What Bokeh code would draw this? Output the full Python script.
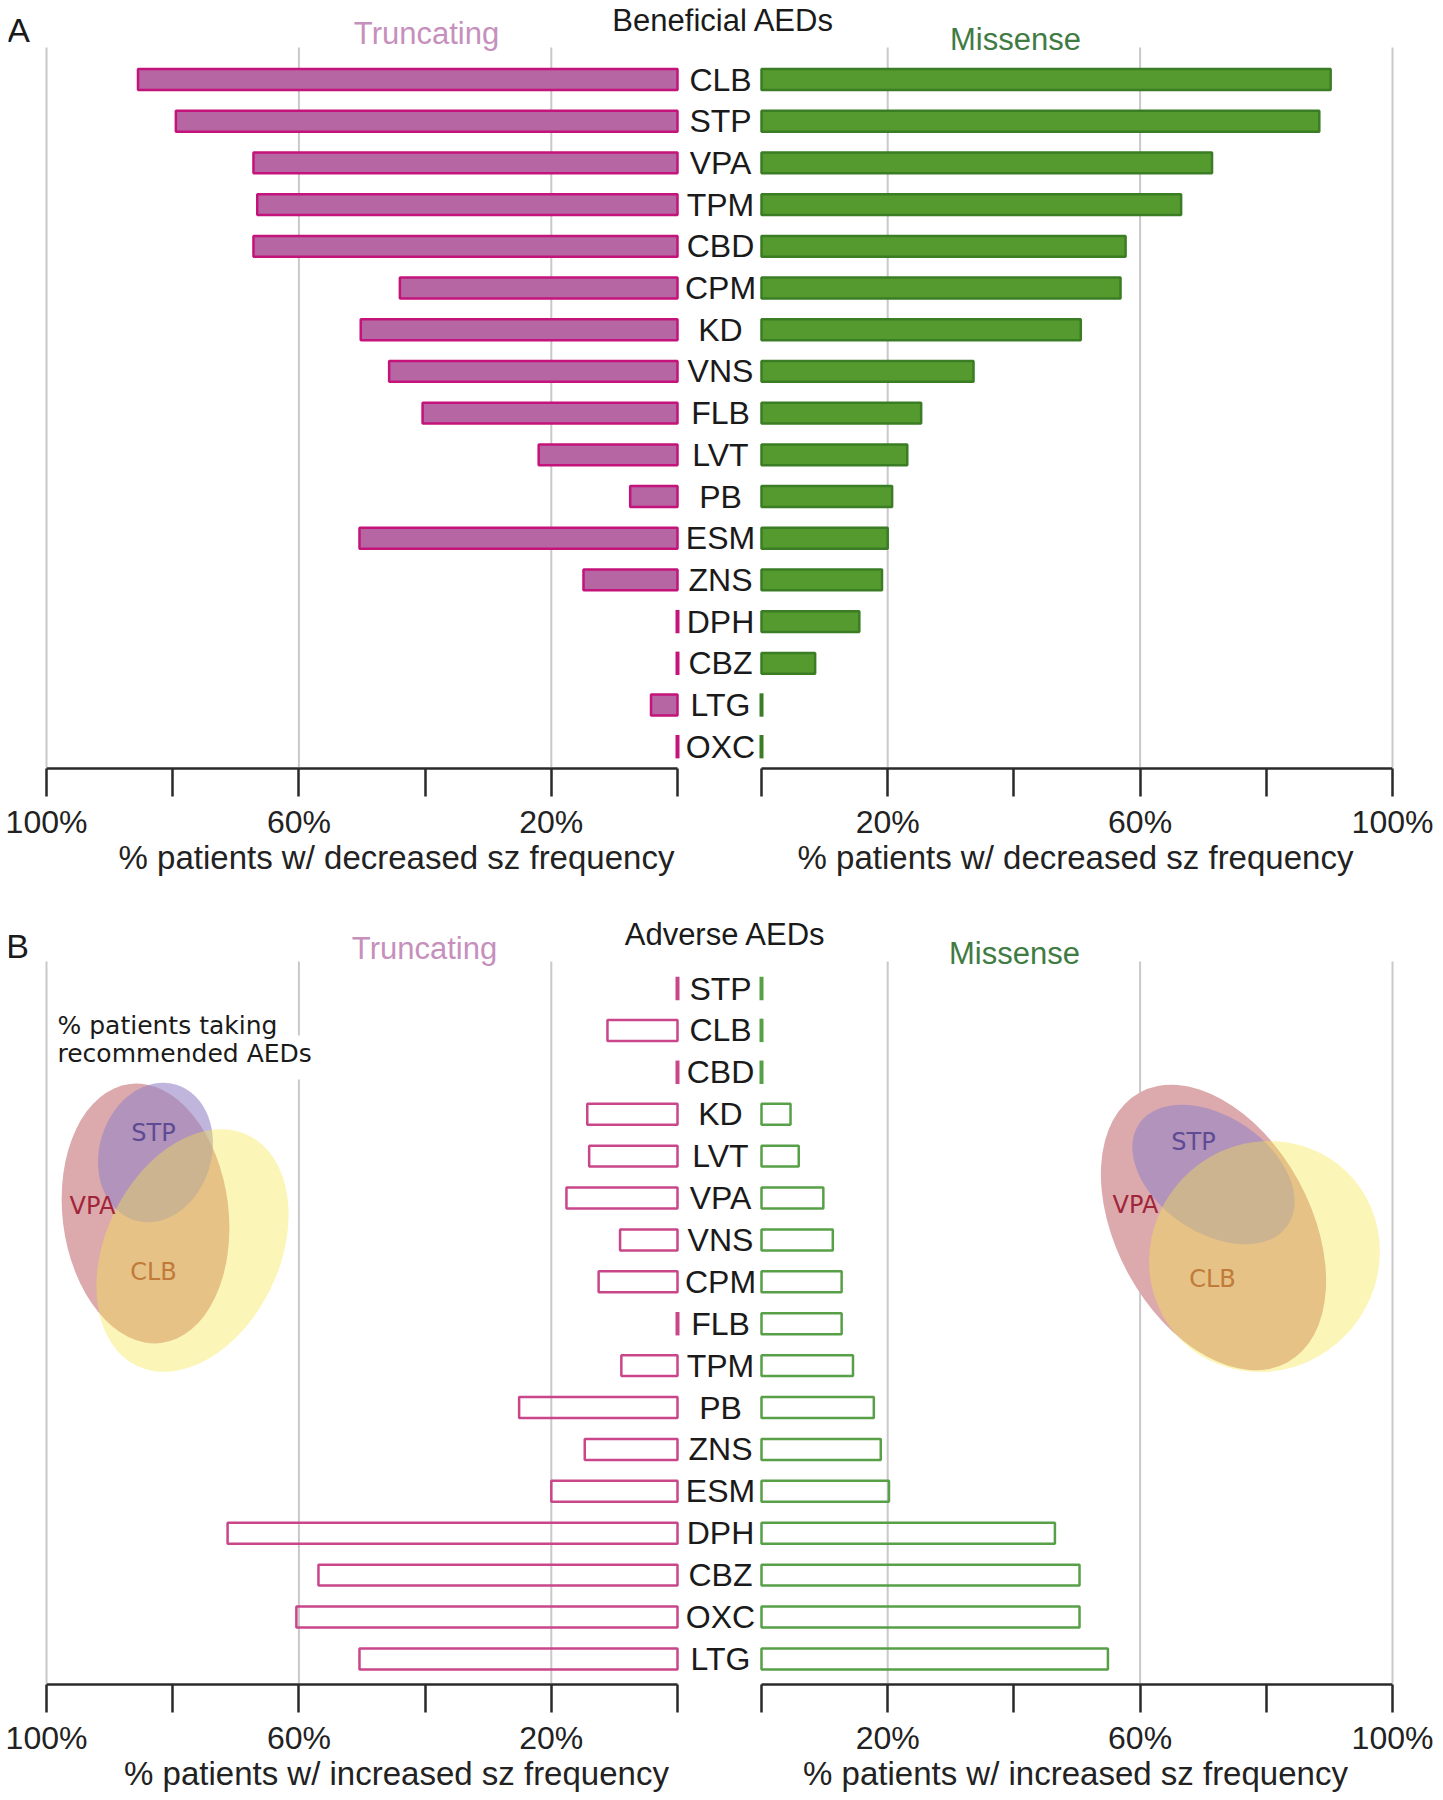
from bokeh.plotting import figure
from bokeh.models import Range1d, FixedTicker
from bokeh.layouts import column, row
from bokeh.embed import file_html
from bokeh.resources import INLINE
from bokeh.core.properties import value

# ---------------- data ----------------
cats_A = ["CLB", "STP", "VPA", "TPM", "CBD", "CPM", "KD", "VNS", "FLB",
          "LVT", "PB", "ESM", "ZNS", "DPH", "CBZ", "LTG", "OXC"]
trunc_A = [85.5, 79.5, 67.2, 66.6, 67.2, 44.0, 50.2, 45.7, 40.4,
           22.0, 7.5, 50.4, 14.9, 0, 0, 4.2, 0]
miss_A = [90.2, 88.4, 71.4, 66.5, 57.7, 56.9, 50.6, 33.6, 25.3,
          23.1, 20.7, 20.0, 19.1, 15.5, 8.5, 0, 0]

cats_B = ["STP", "CLB", "CBD", "KD", "LVT", "VPA", "VNS", "CPM", "FLB",
          "TPM", "PB", "ZNS", "ESM", "DPH", "CBZ", "OXC", "LTG"]
trunc_B = [0, 11.1, 0, 14.3, 14.0, 17.6, 9.1, 12.5, 0,
           8.9, 25.1, 14.7, 20.0, 71.3, 56.9, 60.4, 50.4]
miss_B = [0, 0, 0, 4.6, 5.9, 9.8, 11.3, 12.7, 12.7,
          14.5, 17.8, 18.9, 20.2, 46.5, 50.4, 50.4, 54.9]

tick_values = [0, 20, 40, 60, 80, 100]
tick_labels = {0: "", 20: "20%", 40: "", 60: "60%", 80: "", 100: "100%"}
grid_values = [20, 60, 100]

venn_sets = ["VPA", "STP", "CLB"]

# ---------------- layout / style ----------------
W = 1427
OFF = 8         # page margin emulation
L0 = 669.0      # frame x of left 0%
R0 = 753.0      # frame x of right 0%
PX = 6.31       # px per percent
MID = (L0 + R0) / 2 + 1
FONT = "Liberation Sans"
VFONT = "DejaVu Sans"

TRUNC_FILL = "#b566a3"
TRUNC_LINE = "#c4137a"
MISS_FILL = "#559a2f"
MISS_LINE = "#3b7d24"
TRUNC_LINE_B = "#c9468a"
MISS_LINE_B = "#57a047"
TRUNC_TITLE = "#c690bd"
MISS_TITLE = "#3f7b42"
GRID = "#c9c9c9"

VENN_FILL = {"VPA": ("#dcaaac", 1.0), "STP": ("#9484c6", 0.6), "CLB": ("#f5e64d", 0.4)}
VENN_TEXT = {"VPA": "#a0253a", "STP": "#5f4b94", "CLB": "#c07a3a"}


def main_fig(H, row0, rowsp, top_border):
    top = -row0 / rowsp
    bottom = (H - row0) / rowsp
    p = figure(frame_width=W, frame_height=H, x_range=Range1d(0, W),
               y_range=Range1d(start=bottom, end=top),
               x_axis_type=None, y_axis_type=None, toolbar_location=None,
               output_backend="svg", min_border=0, outline_line_color=None,
               background_fill_color="white", border_fill_color="white")
    p.min_border_left = OFF
    p.min_border_right = 0
    p.min_border_top = top_border
    p.min_border_bottom = 0
    p.extra_x_ranges = {"L": Range1d(start=L0 / PX, end=(L0 - W) / PX),
                        "R": Range1d(start=-R0 / PX, end=(W - R0) / PX)}
    p.extra_y_ranges = {"px": Range1d(start=H, end=0)}
    return p


def add_grid(p, H, gtop):
    for side in ("L", "R"):
        p.segment(x0=grid_values, x1=grid_values, y0=[gtop] * len(grid_values),
                  y1=[H] * len(grid_values), x_range_name=side, y_range_name="px",
                  line_color=GRID, line_width=2)


def add_bars(p, vals, side, fill, line, alpha=1.0):
    idx = [i for i, v in enumerate(vals) if v > 0]
    p.hbar(y=idx, left=0, right=[vals[i] for i in idx], height=0.5,
           fill_color=fill, fill_alpha=alpha, line_color=line, line_width=2.5,
           x_range_name=side)
    zidx = [i for i, v in enumerate(vals) if v == 0]
    if zidx:
        p.segment(x0=[0] * len(zidx), x1=[0] * len(zidx),
                  y0=[i - 0.28 for i in zidx], y1=[i + 0.28 for i in zidx],
                  line_color=line, line_width=4, x_range_name=side)


def add_labels(p, cats):
    p.text(x=[MID] * len(cats), y=list(range(len(cats))), text=cats,
           text_align="center", text_baseline="middle",
           text_font=value(FONT), text_font_size="32px", text_color="#1a1a1a")


def add_header(p, letter, title, pos):
    (lx, ly), (tx, ty), (ux, uy), (mx, my) = pos
    p.text(x=[lx], y=[ly], text=[letter], y_range_name="px", text_align="center",
           text_baseline="middle", text_font=value(FONT), text_font_size="34px",
           text_color="#1a1a1a")
    p.text(x=[tx], y=[ty], text=[title], y_range_name="px", text_align="center",
           text_baseline="middle", text_font=value(FONT), text_font_size="31px",
           text_color="#1a1a1a")
    p.text(x=[ux], y=[uy], text=["Truncating"], y_range_name="px", text_align="center",
           text_baseline="middle", text_font=value(FONT), text_font_size="31px",
           text_color=TRUNC_TITLE)
    p.text(x=[mx], y=[my], text=["Missense"], y_range_name="px", text_align="center",
           text_baseline="middle", text_font=value(FONT), text_font_size="31px",
           text_color=MISS_TITLE)


def add_venn(p, geom, lab):
    for name in venn_sets:
        x, y, w, h, a = geom[name]
        c, al = VENN_FILL[name]
        p.ellipse(x=[x], y=[y], width=[w], height=[h], angle=[a],
                  width_units="screen", height_units="screen",
                  y_range_name="px", fill_color=c, fill_alpha=al, line_color=None)
    for name in venn_sets:
        x, y = lab[name]
        p.text(x=[x], y=[y], text=[name], y_range_name="px", text_align="center",
               text_baseline="middle", text_font=value(VFONT), text_font_size="24px",
               text_color=VENN_TEXT[name])


def axis_fig(xr, mbl, fw, mbr, label):
    p = figure(frame_width=fw, frame_height=1, x_range=xr, y_range=Range1d(0, 1),
               y_axis_type=None, toolbar_location=None, output_backend="svg",
               outline_line_color=None, background_fill_color="white",
               border_fill_color="white")
    p.min_border_left = mbl
    p.min_border_right = mbr
    p.min_border_top = 0
    p.min_border_bottom = 109
    p.xgrid.visible = False
    ax = p.xaxis[0]
    ax.ticker = FixedTicker(ticks=tick_values)
    ax.major_label_overrides = tick_labels
    ax.bounds = (0, 100)
    ax.axis_line_color = "#2a2a2a"
    ax.axis_line_width = 2.5
    ax.major_tick_line_color = "#2a2a2a"
    ax.major_tick_line_width = 2.5
    ax.major_tick_in = 0
    ax.major_tick_out = 28
    ax.minor_tick_line_color = None
    ax.major_label_text_font = FONT
    ax.major_label_text_font_size = "32px"
    ax.major_label_text_color = "#222222"
    ax.major_label_standoff = 7
    ax.axis_label = label
    ax.axis_label_text_font = FONT
    ax.axis_label_text_font_size = "33px"
    ax.axis_label_text_font_style = "normal"
    ax.axis_label_text_color = "#222222"
    ax.axis_label_standoff = -4
    return p


def axis_row(label):
    xl = Range1d(start=(L0 - 36) / PX, end=(L0 - 740) / PX)
    xr = Range1d(start=(740 - R0) / PX, end=(1394 - R0) / PX)
    return row(axis_fig(xl, 36 + OFF, 704, 0, label), axis_fig(xr, 0, 654, 33, label))


# ---------------- panel A ----------------
HA = 759
pA = main_fig(HA, 71, 41.7, OFF)
add_grid(pA, HA, 39)
add_bars(pA, trunc_A, "L", TRUNC_FILL, TRUNC_LINE)
add_bars(pA, miss_A, "R", MISS_FILL, MISS_LINE)
add_labels(pA, cats_A)
add_header(pA, "A", "Beneficial AEDs",
           [(10, 21), (715, 12), (418, 25), (1007, 31)])

# ---------------- panel B ----------------
HB = 805
pB = main_fig(HB, 110, 41.9, 0)
add_grid(pB, HB, 83)
pB.quad(left=[47], right=[320], top=[157], bottom=[201], y_range_name="px",
        fill_color="white", line_color=None)
add_venn(pB,
         {"VPA": (137, 335, 166, 261, 0.12), "STP": (147, 274, 112, 142, -0.3),
          "CLB": (184, 372, 174, 256, -0.45)},
         {"STP": (145, 254), "VPA": (84, 327), "CLB": (145, 393)})
add_venn(pB,
         {"VPA": (1205, 349, 194, 308, 0.5), "STP": (1205, 296, 180, 116, -0.6),
          "CLB": (1256, 378, 236, 226, 0.8)},
         {"STP": (1185, 263), "VPA": (1127, 326), "CLB": (1204, 400)})
pB.text(x=[49, 49], y=[147, 175], text=["% patients taking", "recommended AEDs"],
        y_range_name="px", text_align="left", text_baseline="middle",
        text_font=value(VFONT), text_font_size="25px", text_color="#1a1a1a")
add_bars(pB, trunc_B, "L", None, TRUNC_LINE_B)
add_bars(pB, miss_B, "R", None, MISS_LINE_B)
add_labels(pB, cats_B)
add_header(pB, "B", "Adverse AEDs",
           [(9, 67), (717, 56), (416, 70), (1006, 75)])

layout = column(pA, axis_row("% patients w/ decreased sz frequency"),
                pB, axis_row("% patients w/ increased sz frequency"))

open("out.html", "w").write(file_html(layout, INLINE))
